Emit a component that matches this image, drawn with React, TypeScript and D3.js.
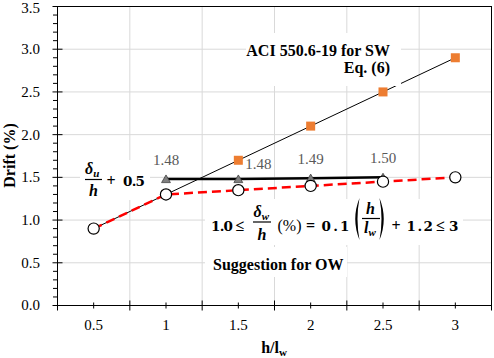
import React from "react";
import * as d3 from "d3";

const W = 494;
const H = 358;

// ---- data ----
const xCats = [0.5, 1, 1.5, 2, 2.5, 3];
const xTickLabels = ["0.5", "1", "1.5", "2", "2.5", "3"];
const swValues = [0.9, 1.3, 1.7, 2.1, 2.5, 2.9]; // ACI 550.6-19 for SW, Eq. (6)
const owValues = [0.9, 1.3, 1.35, 1.4, 1.45, 1.5]; // Suggestion for OW
const triX = [1, 1.5, 2, 2.5];
const triValues = [1.48, 1.48, 1.49, 1.5]; // δu/h + 0.5
const triLabels = ["1.48", "1.48", "1.49", "1.50"];
const yTicks = [0, 0.5, 1, 1.5, 2, 2.5, 3, 3.5];
const yTickLabels = ["0.0", "0.5", "1.0", "1.5", "2.0", "2.5", "3.0", "3.5"];
const xDomain = [0.25, 3.25];
const yDomain = [0, 3.5];

const SERIF = "Liberation Serif";
const MATH = "DejaVu Serif";

function paren(x0: number, y1: number, y2: number, dir: 1 | -1) {
  const mid = (y1 + y2) / 2;
  const e = x0 + dir * 7;
  return `M${e},${y1} Q${x0 - dir * 1.5},${mid} ${e},${y2} Q${x0 + dir * 3},${mid} ${e},${y1} Z`;
}

const ser = (size: number, extra: React.CSSProperties = {}): React.CSSProperties => ({
  fontFamily: SERIF,
  fontSize: size,
  ...extra,
});
const mth = (size: number): React.CSSProperties => ({ fontFamily: MATH, fontSize: size, fontWeight: "bold" });

export default function App() {
  const x = d3.scaleLinear().domain(xDomain).range([57.5, 491.5]);
  const y = d3.scaleLinear().domain(yDomain).range([305.5, 6.5]);

  const line = d3
    .line<[number, number]>()
    .x((d) => x(d[0]))
    .y((d) => y(d[1]));

  const swPts = xCats.map((c, i) => [c, swValues[i]] as [number, number]);
  const owPts = xCats.map((c, i) => [c, owValues[i]] as [number, number]);
  const triPts = triX.map((c, i) => [c, triValues[i]] as [number, number]);

  const yGrid = yTicks.filter((t) => t > 0 && t < 3.5);
  const xBounds = d3.range(xDomain[0], xDomain[1] + 0.001, 0.5);
  const xGrid = xBounds.filter((t) => t > xDomain[0] && t < xDomain[1]);
  const yMinor = d3.range(0, 3.5001, 0.1).filter((v) => Math.abs(v * 2 - Math.round(v * 2)) > 1e-6);

  const tri = d3.symbol(d3.symbolTriangle, 34)()!;
  const sq = 9;

  const [x0, x1] = x.range();
  const [yb, yt] = y.range();

  const B: React.CSSProperties = { fontWeight: "bold" };
  const BI: React.CSSProperties = { fontWeight: "bold", fontStyle: "italic" };

  return (
    <svg
      width={W}
      height={H}
      viewBox={`0 0 ${W} ${H}`}
      style={{ position: "absolute", left: 0, top: 0, background: "#fff" }}
    >
      <rect x={0} y={0} width={W} height={H} fill="#fff" />
      {/* grid */}
      {yGrid.map((t) => (
        <line key={"gy" + t} x1={x0} x2={x1} y1={y(t)} y2={y(t)} stroke="#d9d9d9" strokeWidth={1} />
      ))}
      {xGrid.map((t) => (
        <line key={"gx" + t} x1={x(t)} x2={x(t)} y1={yt} y2={yb} stroke="#d9d9d9" strokeWidth={1} />
      ))}

      {/* SW line */}
      <path d={line(swPts)!} fill="none" stroke="#000" strokeWidth={1} />

      {/* label boxes */}
      <rect x={246} y={33} width={155} height={53} fill="#fff" />
      <rect x={80} y={160} width={70} height={40} fill="#fff" />
      <rect x={205} y={199} width={258} height={46} fill="#fff" />
      <rect x={205} y={247} width={142} height={30} fill="#fff" />

      {/* frame */}
      <rect x={x0} y={yt} width={x1 - x0} height={yb - yt} fill="none" stroke="#000" strokeWidth={1} />

      {/* y ticks */}
      {yTicks.map((t) => (
        <line key={"yt" + t} x1={x0 - 5} x2={t > 0 && t < 3.5 ? x0 + 5 : x0} y1={y(t)} y2={y(t)} stroke="#000" strokeWidth={1} />
      ))}
      {yMinor.map((t) => (
        <line key={"ym" + t} x1={x0 - 4.5} x2={x0} y1={y(t)} y2={y(t)} stroke="#000" strokeWidth={1} />
      ))}
      {yTicks.map((t, i) => (
        <text key={"yl" + t} x={40} y={Math.max(y(t), 8)} dy="0.33em" textAnchor="end" style={ser(15)} fill="#000">
          {yTickLabels[i]}
        </text>
      ))}

      {/* x ticks */}
      {xBounds.map((t) => (
        <line key={"xb" + t} x1={x(t)} x2={x(t)} y1={yb - 5} y2={yb + 5} stroke="#000" strokeWidth={1} />
      ))}
      {xCats.map((t) => (
        <line key={"xc" + t} x1={x(t)} x2={x(t)} y1={yb - 3} y2={yb + 3} stroke="#000" strokeWidth={1} />
      ))}
      {xCats.map((t, i) => (
        <text key={"xl" + t} x={x(t)} y={329.5} textAnchor="middle" style={ser(15)} fill="#000">
          {xTickLabels[i]}
        </text>
      ))}

      {/* axis titles */}
      <text x={274} y={353} textAnchor="middle" style={ser(16, B)}>
        h/l<tspan style={{ fontSize: 11 }} dy={3}>w</tspan>
      </text>
      <text transform="translate(14.5,155.5) rotate(-90)" textAnchor="middle" style={ser(16, B)}>
        Drift (%)
      </text>

      {/* SW label */}
      <text x={390} y={56} textAnchor="end" style={ser(16, B)}>
        ACI 550.6-19 for SW
      </text>
      <text x={390} y={73} textAnchor="end" style={ser(16, B)}>
        Eq. (6)
      </text>

      {/* δu/h + 0.5 */}
      <g>
        <text x={85} y={174} style={ser(16, BI)}>
          δ<tspan style={{ fontSize: 11 }} dy={3}>u</tspan>
        </text>
        <line x1={85} x2={102} y1={179.5} y2={179.5} stroke="#000" strokeWidth={1.2} />
        <text x={93.5} y={196} textAnchor="middle" style={ser(16, BI)}>h</text>
        <text x={106.5} y={186} style={ser(16, B)}>+</text>
        <text x={123} y={186} style={mth(13.5)} textLength={22} lengthAdjust="spacing">0.5</text>
      </g>

      {/* equation */}
      <g>
        <text x={211} y={230.5} style={mth(13.5)} textLength={22} lengthAdjust="spacing">1.0</text>
        <text x={235.5} y={230.5} style={ser(16, B)}>≤</text>
        <text x={253.5} y={217} style={ser(16, BI)}>
          δ<tspan style={{ fontSize: 11 }} dy={3}>w</tspan>
        </text>
        <line x1={253} x2={271} y1={222} y2={222} stroke="#000" strokeWidth={1.2} />
        <text x={262} y={240} textAnchor="middle" style={ser(16, BI)}>h</text>
        <text x={277.5} y={231} style={ser(16)}>(%)</text>
        <text x={306} y={230.5} style={ser(16, B)}>=</text>
        <text x={321.5} y={230.5} style={mth(13.5)} textLength={28} lengthAdjust="spacing">0.1</text>
        <path d={paren(352.5, 198, 240, 1)} fill="#000" />
        <text x={370.5} y={213.5} textAnchor="middle" style={ser(16, BI)}>h</text>
        <line x1={362} x2={380} y1={218.5} y2={218.5} stroke="#000" strokeWidth={1.2} />
        <text x={364} y={233} style={ser(16, BI)}>
          l<tspan style={{ fontSize: 11 }} dy={3}>w</tspan>
        </text>
        <path d={paren(386.5, 198, 240, -1)} fill="#000" />
        <text x={391.5} y={230.5} style={ser(16, B)}>+</text>
        <text x={406.5} y={230.5} style={mth(13.5)} textLength={26.5} lengthAdjust="spacing">1.2</text>
        <text x={436} y={230.5} style={ser(16, B)}>≤</text>
        <text x={449} y={230.5} style={mth(13.5)}>3</text>
      </g>

      {/* Suggestion label */}
      <text x={213} y={269.5} style={ser(16, B)}>
        Suggestion for OW
      </text>

      {/* triangle series line */}
      <path d={line(triPts)!} fill="none" stroke="#000" strokeWidth={2.5} />

      {/* OW dashed line */}
      <path d={line(owPts)!} fill="none" stroke="#ff0000" strokeWidth={2.5} strokeDasharray="9,5" />

      {/* SW squares */}
      {swPts.map((p, i) => (
        <rect key={"sq" + i} x={x(p[0]) - sq / 2} y={y(p[1]) - sq / 2} width={sq} height={sq} fill="#ed7d31" />
      ))}

      {/* triangles */}
      {triPts.map((p, i) => (
        <path
          key={"tr" + i}
          d={tri}
          transform={`translate(${x(p[0])},${y(p[1]) + 1})`}
          fill="#7f7f7f"
          stroke="#404040"
          strokeWidth={0.8}
        />
      ))}

      {/* OW circles */}
      {owPts.map((p, i) => (
        <circle key={"c" + i} cx={x(p[0])} cy={y(p[1])} r={5.6} fill="#fff" stroke="#000" strokeWidth={1.2} />
      ))}

      {/* triangle value labels */}
      {triPts.map((p, i) => {
        const shifted = i === 1;
        return (
          <text
            key={"tl" + i}
            x={x(p[0]) + (shifted ? 20 : 0)}
            y={y(p[1]) - (shifted ? 10.5 : 14)}
            textAnchor="middle"
            style={ser(15)}
            fill="#595959"
          >
            {triLabels[i]}
          </text>
        );
      })}
    </svg>
  );
}
